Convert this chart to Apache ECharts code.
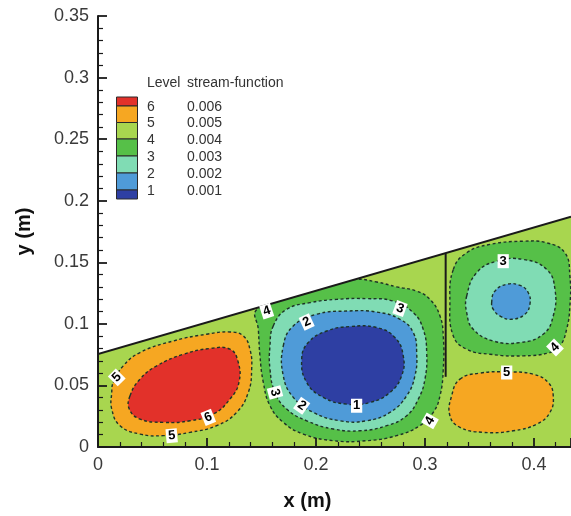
<!DOCTYPE html>
<html><head><meta charset="utf-8">
<script src="https://cdn.jsdelivr.net/npm/echarts/dist/echarts.min.js"></script>
<style>html,body{margin:0;padding:0;background:#fff}#c{width:571px;height:516px}</style>
</head><body><div id="c"></div>
<script>
// ---------- data (metres) ----------
const xTickLabels = ['0', '0.1', '0.2', '0.3', '0.4'];
const yTickLabels = ['0', '0.05', '0.1', '0.15', '0.2', '0.25', '0.3', '0.35'];
const levelNames = ['6', '5', '4', '3', '2', '1'];
const levelValues = ['0.006', '0.005', '0.004', '0.003', '0.002', '0.001'];

// sloped top wall and internal baffle
const wallX = [0, 0.434];
const wallY = [0.0754, 0.187];
const baffleX = [0.319, 0.319];
const baffleY = [0.057, 0.157];

// contour polygons [x, y]
const leftLevel5 = [[0.0140,0.0524],[0.0232,0.0659],[0.0385,0.0767],[0.0691,0.0861],[0.0997,0.0916],[0.1211,0.0934],[0.1333,0.0902],[0.1394,0.0794],[0.1410,0.0632],[0.1379,0.0443],[0.1272,0.0281],[0.1089,0.0173],[0.0844,0.0119],[0.0599,0.0092],[0.0385,0.0105],[0.0202,0.0173],[0.0126,0.0308],[0.0126,0.0443]];
const leftLevel6 = [[0.0294,0.0416],[0.0385,0.0551],[0.0539,0.0659],[0.0783,0.0753],[0.1028,0.0800],[0.1211,0.0794],[0.1284,0.0697],[0.1294,0.0527],[0.1211,0.0389],[0.1058,0.0267],[0.0844,0.0213],[0.0599,0.0200],[0.0385,0.0227],[0.0287,0.0308]];
const midLevel4 = [[0.1456,0.1115],[0.1471,0.0956],[0.1486,0.0740],[0.1517,0.0524],[0.1578,0.0335],[0.1700,0.0200],[0.1883,0.0105],[0.2159,0.0051],[0.2465,0.0051],[0.2740,0.0092],[0.2954,0.0173],[0.3076,0.0281],[0.3138,0.0416],[0.3168,0.0632],[0.3168,0.0902],[0.3138,0.1064],[0.3046,0.1199],[0.2924,0.1266],[0.2740,0.1300],[0.2557,0.1340],[0.2350,0.1360],[0.2100,0.1300],[0.1800,0.1220]];
const midLevel3 = [[0.1608,0.0983],[0.1731,0.1118],[0.1945,0.1172],[0.2190,0.1199],[0.2465,0.1205],[0.2709,0.1185],[0.2893,0.1091],[0.2984,0.0956],[0.3016,0.0767],[0.3000,0.0551],[0.2939,0.0389],[0.2832,0.0254],[0.2649,0.0173],[0.2404,0.0132],[0.2159,0.0146],[0.1915,0.0213],[0.1731,0.0308],[0.1624,0.0443],[0.1578,0.0632],[0.1578,0.0821]];
const midLevel2 = [[0.1700,0.0821],[0.1792,0.0983],[0.2006,0.1078],[0.2282,0.1104],[0.2557,0.1096],[0.2771,0.1037],[0.2893,0.0929],[0.2924,0.0767],[0.2908,0.0578],[0.2832,0.0416],[0.2679,0.0281],[0.2465,0.0213],[0.2220,0.0213],[0.1975,0.0281],[0.1792,0.0403],[0.1700,0.0578]];
const midLevel1 = [[0.1869,0.0713],[0.1929,0.0848],[0.2098,0.0942],[0.2312,0.0978],[0.2557,0.0970],[0.2725,0.0889],[0.2801,0.0740],[0.2786,0.0578],[0.2679,0.0443],[0.2495,0.0362],[0.2282,0.0348],[0.2067,0.0403],[0.1915,0.0524]];
const rightLevel4 = [[0.3260,0.1442],[0.3383,0.1577],[0.3596,0.1645],[0.3902,0.1671],[0.4117,0.1658],[0.4284,0.1577],[0.4330,0.1388],[0.4330,0.1145],[0.4300,0.0956],[0.4239,0.0821],[0.4147,0.0767],[0.3902,0.0740],[0.3596,0.0753],[0.3383,0.0794],[0.3260,0.0902],[0.3229,0.1172]];
const rightLevel3 = [[0.3383,0.1226],[0.3474,0.1415],[0.3658,0.1509],[0.3902,0.1523],[0.4117,0.1442],[0.4193,0.1280],[0.4177,0.1064],[0.4085,0.0916],[0.3872,0.0848],[0.3627,0.0861],[0.3443,0.0956],[0.3383,0.1091]];
const rightLevel2 = [[0.3612,0.1172],[0.3642,0.1266],[0.3750,0.1321],[0.3872,0.1312],[0.3948,0.1253],[0.3963,0.1159],[0.3917,0.1078],[0.3795,0.1037],[0.3688,0.1064],[0.3627,0.1118]];
const rightLevel5 = [[0.3321,0.0551],[0.3505,0.0600],[0.3750,0.0610],[0.3994,0.0591],[0.4131,0.0524],[0.4177,0.0416],[0.4147,0.0281],[0.4025,0.0186],[0.3810,0.0132],[0.3535,0.0119],[0.3321,0.0160],[0.3229,0.0254],[0.3245,0.0416]];

// contour labels
const labelText = ['5', '6', '5', '4', '2', '3', '3', '2', '1', '4', '3', '4', '5'];
const labelX = [0.0172, 0.1012, 0.0676, 0.1548, 0.1915, 0.2771, 0.1624, 0.1869, 0.2373, 0.3046, 0.3718, 0.4193, 0.3750];
const labelY = [0.0565, 0.0241, 0.0092, 0.1104, 0.1015, 0.1124, 0.0443, 0.0335, 0.0335, 0.0213, 0.1509, 0.0808, 0.0605];
const labelAngle = [45, 22, 5, 18, 25, -20, -75, -35, 0, 60, 0, 45, 0];

// ---------- styles ----------
// band colours, from the band above level 6 down to the band below level 1
const bandColors = ['#e2312a', '#f6a722', '#a8d64f', '#56c048', '#80dcb4', '#4f9bd8', '#2e3fa3'];
const contours = [
  { pts: leftLevel5, band: 1 }, { pts: leftLevel6, band: 0 },
  { pts: midLevel4, band: 3 }, { pts: midLevel3, band: 4 }, { pts: midLevel2, band: 5 }, { pts: midLevel1, band: 6 },
  { pts: rightLevel4, band: 3 }, { pts: rightLevel3, band: 4 }, { pts: rightLevel2, band: 5 },
  { pts: rightLevel5, band: 1 }
];
const FONT = 'Liberation Sans, Arial, sans-serif';
const xMax = wallX[1];
const yMax = 0.35;

const chart = echarts.init(document.getElementById('c'), null, { renderer: 'canvas' });

function fmt(labels) {
  return function (v) {
    for (const l of labels) if (Math.abs(parseFloat(l) - v) < 1e-6) return l;
    return '';
  };
}

const axisCommon = {
  type: 'value',
  z: 10,
  splitLine: { show: false },
  axisLine: { show: true, lineStyle: { color: '#1a1a1a', width: 2 } },
  axisTick: { show: true, inside: true, length: 9, lineStyle: { color: '#1a1a1a', width: 1.8 } },
  minorTick: { show: true, splitNumber: 5, length: 5, lineStyle: { color: '#1a1a1a', width: 1.2 } },
  minorSplitLine: { show: false }
};

// legend graphics
const legendGraphics = [];
const swatchEdges = [96.5, 105.5, 122, 138.5, 155.5, 172.5, 189.5, 198.5];
for (let i = 0; i < bandColors.length; i++) {
  legendGraphics.push({
    type: 'rect', left: 116, top: swatchEdges[i], z: 100,
    shape: { width: 21, height: swatchEdges[i + 1] - swatchEdges[i] },
    style: { fill: bandColors[i], stroke: '#2a2a2a', lineWidth: 1 }
  });
}
legendGraphics.push({ type: 'text', left: 147, top: 76, z: 100, style: { text: 'Level', font: '14px ' + FONT, fill: '#333' } });
legendGraphics.push({ type: 'text', left: 187, top: 76, z: 100, style: { text: 'stream-function', font: '14px ' + FONT, fill: '#333' } });
const rowY = [108.3, 124.5, 141.5, 158.3, 175, 191.7];
for (let i = 0; i < levelNames.length; i++) {
  legendGraphics.push({ type: 'text', left: 147, top: rowY[i] - 8, z: 100, style: { text: levelNames[i], font: '14px ' + FONT, fill: '#333' } });
  legendGraphics.push({ type: 'text', left: 187, top: rowY[i] - 8, z: 100, style: { text: levelValues[i], font: '14px ' + FONT, fill: '#333' } });
}

const option = {
  animation: false,
  backgroundColor: '#fff',
  grid: { left: 98, right: 0, top: 16, bottom: 68, containLabel: false },
  xAxis: Object.assign({}, axisCommon, {
    min: 0, max: xMax, interval: 0.1,
    name: 'x (m)', nameLocation: 'middle', nameGap: 44,
    nameTextStyle: { fontFamily: FONT, fontSize: 20, fontWeight: 'bold', color: '#111', padding: [0, 54, 0, 0] },
    axisLabel: { show: true, showMaxLabel: false, margin: 9, fontFamily: FONT, fontSize: 18, color: '#3a3a3a', formatter: fmt(xTickLabels) }
  }),
  yAxis: Object.assign({}, axisCommon, {
    min: 0, max: yMax, interval: 0.05,
    name: 'y (m)', nameLocation: 'middle', nameGap: 64,
    nameTextStyle: { fontFamily: FONT, fontSize: 20, fontWeight: 'bold', color: '#111' },
    axisLabel: { show: true, margin: 9, fontFamily: FONT, fontSize: 18, color: '#3a3a3a', formatter: fmt(yTickLabels) }
  }),
  graphic: { elements: legendGraphics },
  series: [
    { // fluid domain background
      type: 'custom', z: 1, clip: true, silent: true,
      data: [[0, 0]],
      renderItem: function (params, api) {
        const pts = [[wallX[0], 0], [wallX[1], 0], [wallX[1], wallY[1]], [wallX[0], wallY[0]]].map(p => api.coord(p));
        return { type: 'polygon', shape: { points: pts }, style: { fill: bandColors[2], stroke: null } };
      }
    },
    { // filled contours
      type: 'custom', z: 2, clip: true, silent: true,
      data: contours.map((c, i) => [c.pts[0][0], c.pts[0][1], i]),
      renderItem: function (params, api) {
        const c = contours[params.dataIndex];
        const pts = c.pts.map(p => api.coord(p));
        return {
          type: 'polygon',
          shape: { points: pts, smooth: 0.45 },
          style: { fill: bandColors[c.band], stroke: '#1d3328', lineWidth: 1.4, lineDash: [3, 2.5] }
        };
      }
    },
    { // mask above wall, wall and baffle
      type: 'custom', z: 3, clip: true, silent: true,
      data: [[0, 0]],
      renderItem: function (params, api) {
        const mask = [[wallX[0], wallY[0]], [wallX[1], wallY[1]], [wallX[1], yMax], [wallX[0], yMax]].map(p => api.coord(p));
        const w0 = api.coord([wallX[0], wallY[0]]), w1 = api.coord([wallX[1], wallY[1]]);
        const b0 = api.coord([baffleX[0], baffleY[0]]), b1 = api.coord([baffleX[1], baffleY[1]]);
        return {
          type: 'group', children: [
            { type: 'polygon', shape: { points: mask }, style: { fill: '#fff', stroke: null } },
            { type: 'line', shape: { x1: w0[0], y1: w0[1], x2: w1[0], y2: w1[1] }, style: { stroke: '#1a1a1a', lineWidth: 2 } },
            { type: 'line', shape: { x1: b0[0], y1: b0[1], x2: b1[0], y2: b1[1] }, style: { stroke: '#1a1a1a', lineWidth: 2 } }
          ]
        };
      }
    },
    { // contour labels
      type: 'custom', z: 4, clip: false, silent: true,
      data: labelText.map((t, i) => [labelX[i], labelY[i], labelAngle[i]]),
      renderItem: function (params, api) {
        const i = params.dataIndex;
        const p = api.coord([api.value(0), api.value(1)]);
        return {
          type: 'text', x: p[0], y: p[1], rotation: api.value(2) * Math.PI / 180,
          style: {
            text: labelText[i], font: 'bold 13px ' + FONT, fill: '#000',
            align: 'center', verticalAlign: 'middle',
            backgroundColor: '#fff', padding: [1, 2, 0, 2]
          }
        };
      }
    }
  ]
};
chart.setOption(option);
</script>
</body></html>
